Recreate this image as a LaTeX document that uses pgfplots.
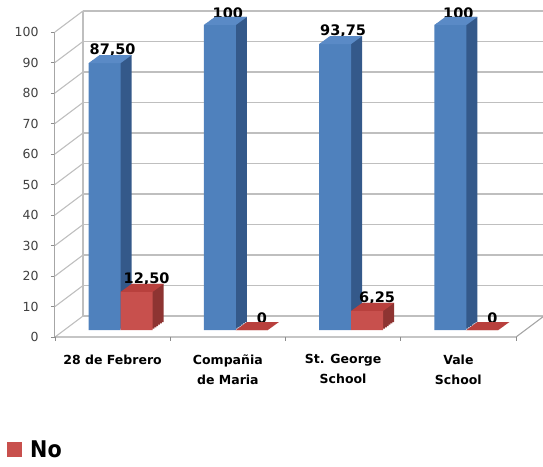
\documentclass[border=0pt]{standalone}
\usepackage{pgfplots}
\pgfplotsset{compat=1.18}
\usepackage{pgfplotstable}
\usepackage{fontspec}
\setmainfont{DejaVu Sans}
\newfontfamily\condfont{DejaVu Sans Condensed}

\definecolor{bluefront}{HTML}{4F81BD}
\definecolor{bluetop}{HTML}{5A8AC6}
\definecolor{blueside}{HTML}{34598A}
\definecolor{redfront}{HTML}{C8504D}
\definecolor{redtop}{HTML}{B8403D}
\definecolor{redside}{HTML}{8E3432}
\definecolor{wallgray}{HTML}{BFBFBF}

% top faces of the 3-D bars (bar width 32pt, depth 11pt x 8pt)
\pgfdeclareplotmark{topL}{%
  \pgfpathmoveto{\pgfqpoint{-32pt}{0pt}}\pgfpathlineto{\pgfqpoint{0pt}{0pt}}%
  \pgfpathlineto{\pgfqpoint{11pt}{8pt}}\pgfpathlineto{\pgfqpoint{-21pt}{8pt}}%
  \pgfpathclose\pgfusepathqfill}
\pgfdeclareplotmark{topR}{%
  \pgfpathmoveto{\pgfqpoint{0pt}{0pt}}\pgfpathlineto{\pgfqpoint{32pt}{0pt}}%
  \pgfpathlineto{\pgfqpoint{43pt}{8pt}}\pgfpathlineto{\pgfqpoint{11pt}{8pt}}%
  \pgfpathclose\pgfusepathqfill}

% Si / No percentages per school
\pgfplotstableread{
x y label
0 87.5 87,50
1 100 100
2 93.75 93,75
3 100 100
}\sitable
\pgfplotstableread{
x y label
0 12.5 12,50
1 0 0
2 6.25 6,25
3 0 0
}\notable

\begin{document}
\begin{tikzpicture}
\begin{axis}[
  at={(63pt,136pt)}, anchor=south west,
  scale only axis, width=461pt, height=305pt,
  xmin=-0.5, xmax=3.5, ymin=0, ymax=100,
  clip=false,
  axis line style={draw=none},
  major tick length=0pt,
  /pgf/number format/assume math mode=true,
  xtick={0,1,2,3},
  xticklabels={28 de Febrero, {Compañia\\de Maria}, {St. George\\School}, {Vale\\School}},
  xticklabel style={align=center, font=\bfseries\fontsize{12.5}{20}\selectfont,
    xshift=-8pt, yshift=-21pt},
  ytick={0,10,...,100},
  yticklabel style={font=\fontsize{12.5}{14}\selectfont, text=black!75,
    xshift=-21pt, yshift=-7pt},
  ymajorgrids,
  major grid style={draw=wallgray, line width=1.1pt, xshift=20pt, yshift=14pt},
  bar width=32pt,
  legend style={at={(-0.1215,-0.393)}, anchor=west, draw=none, fill=none,
    inner sep=0pt, font=\condfont\bfseries\fontsize{23}{25}\selectfont},
  legend cell align=left,
  sidecopy/.style={ybar, draw=none, forget plot},
  toplabel/.style={point meta=explicit symbolic, nodes near coords,
    every node near coord/.append style={font=\bfseries\fontsize{14.5}{16}\selectfont,
      text=black, anchor=south, inner sep=0pt, yshift=6pt, xshift=#1}},
]
% side wall and floor edges
\pgfplotsinvokeforeach{0,10,...,100}{
  \draw[wallgray, line width=1.1pt]
    ([xshift=-8pt,yshift=-7pt]axis cs:-0.5,#1) -- ([xshift=20pt,yshift=14pt]axis cs:-0.5,#1);
  \draw[black!45, line width=0.8pt]
    ([xshift=-12pt,yshift=-7pt]axis cs:-0.5,#1) -- ([xshift=-8pt,yshift=-7pt]axis cs:-0.5,#1);
}
\draw[wallgray, line width=1.1pt]
  ([xshift=20pt,yshift=14pt]axis cs:-0.5,0) -- ([xshift=20pt,yshift=14pt]axis cs:-0.5,100);
\draw[black!35, line width=1pt]
  ([xshift=-8pt,yshift=-7pt]axis cs:-0.5,0) -- ([xshift=-8pt,yshift=-7pt]axis cs:-0.5,100);
\draw[black!35, line width=1.1pt]
  ([xshift=-8pt,yshift=-7pt]axis cs:-0.5,0) -- ([xshift=-8pt,yshift=-7pt]axis cs:3.5,0)
  -- ([xshift=20pt,yshift=14pt]axis cs:3.5,0);
\pgfplotsinvokeforeach{-0.5,0.5,1.5,2.5,3.5}{
  \draw[black!45, line width=0.8pt]
    ([xshift=-8pt,yshift=-7pt]axis cs:#1,0) -- ([xshift=-8pt,yshift=-11pt]axis cs:#1,0);
}

% Si: side (swept in steps), front and top faces
\addplot[sidecopy, bar shift=-16pt, fill=blueside, xshift=11pt, yshift=8pt] table[x=x, y=y] {\sitable};
\addplot[sidecopy, bar shift=-16pt, fill=blueside, xshift=9.2pt, yshift=6.7pt] table[x=x, y=y] {\sitable};
\addplot[sidecopy, bar shift=-16pt, fill=blueside, xshift=7.3pt, yshift=5.3pt] table[x=x, y=y] {\sitable};
\addplot[sidecopy, bar shift=-16pt, fill=blueside, xshift=5.5pt, yshift=4pt] table[x=x, y=y] {\sitable};
\addplot[sidecopy, bar shift=-16pt, fill=blueside, xshift=3.7pt, yshift=2.7pt] table[x=x, y=y] {\sitable};
\addplot[sidecopy, bar shift=-16pt, fill=blueside, xshift=1.8pt, yshift=1.3pt] table[x=x, y=y] {\sitable};
\addplot[ybar, bar shift=-16pt, fill=bluefront, draw=none, forget plot, toplabel=-8pt]
  table[x=x, y=y, meta=label] {\sitable};
\addplot[only marks, mark=topL, mark options={fill=bluetop, draw=none}, forget plot]
  table[x=x, y=y] {\sitable};

% No: side (swept in steps), front and top faces
\addplot[sidecopy, bar shift=16pt, fill=redside, xshift=11pt, yshift=8pt] table[x=x, y=y] {\notable};
\addplot[sidecopy, bar shift=16pt, fill=redside, xshift=9.2pt, yshift=6.7pt] table[x=x, y=y] {\notable};
\addplot[sidecopy, bar shift=16pt, fill=redside, xshift=7.3pt, yshift=5.3pt] table[x=x, y=y] {\notable};
\addplot[sidecopy, bar shift=16pt, fill=redside, xshift=5.5pt, yshift=4pt] table[x=x, y=y] {\notable};
\addplot[sidecopy, bar shift=16pt, fill=redside, xshift=3.7pt, yshift=2.7pt] table[x=x, y=y] {\notable};
\addplot[sidecopy, bar shift=16pt, fill=redside, xshift=1.8pt, yshift=1.3pt] table[x=x, y=y] {\notable};
\addplot[ybar, bar shift=16pt, fill=redfront, draw=none, toplabel=26pt,
  legend image code/.code={\fill[redfront] (0pt,-7.5pt) rectangle (15pt,7.5pt);}]
  table[x=x, y=y, meta=label] {\notable};
\addlegendentry{\hspace{6pt}No}
\addplot[only marks, mark=topR, mark options={fill=redtop, draw=none}, forget plot]
  table[x=x, y=y] {\notable};
\end{axis}
\pgfresetboundingbox
\path (0,0) rectangle (543pt,466pt);
\end{tikzpicture}
\end{document}
